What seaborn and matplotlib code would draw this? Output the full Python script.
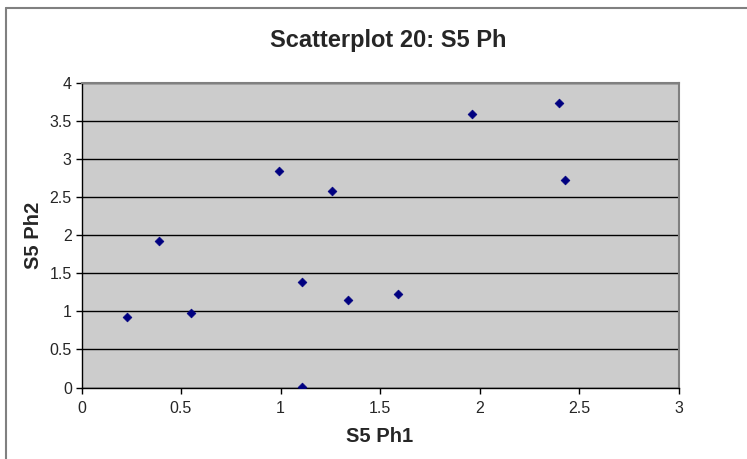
import matplotlib
matplotlib.use("Agg")
import matplotlib.pyplot as plt
import seaborn as sns
import pandas as pd
from matplotlib.lines import Line2D

x_vals = [0.23, 0.39, 0.55, 0.99, 1.11, 1.11, 1.26, 1.34, 1.59, 1.96, 2.40, 2.43]
y_vals = [0.93, 1.93, 0.98, 2.85, 1.39, 0.01, 2.58, 1.15, 1.23, 3.59, 3.74, 2.73]
x_ticks = [0, 0.5, 1, 1.5, 2, 2.5, 3]
x_tick_labels = ["0", "0.5", "1", "1.5", "2", "2.5", "3"]
y_ticks = [0, 0.5, 1, 1.5, 2, 2.5, 3, 3.5, 4]
y_tick_labels = ["0", "0.5", "1", "1.5", "2", "2.5", "3", "3.5", "4"]
title = "Scatterplot 20: S5 Ph"
x_label = "S5 Ph1"
y_label = "S5 Ph2"

sns.set_style("white")
plt.rcParams['font.family'] = ['Liberation Sans', 'DejaVu Sans']

W, H = 747, 459
fig = plt.figure(figsize=(W / 100, H / 100), dpi=100)
ax = fig.add_axes([81.5 / W, 1 - 387.5 / H, (678.5 - 81.5) / W, (387.5 - 83.3) / H])

df = pd.DataFrame({"x": x_vals, "y": y_vals})
sns.scatterplot(data=df, x="x", y="y", ax=ax, marker="D", s=20,
                color="#000080", edgecolor="#000080", linewidth=0.5, zorder=3)

ax.set_facecolor("#cccccc")
ax.set_xlim(0, 3)
ax.set_ylim(0, 4)
ax.set_xticks(x_ticks)
ax.set_xticklabels(x_tick_labels)
ax.set_yticks(y_ticks)
ax.set_yticklabels(y_tick_labels)
ax.yaxis.grid(True, color="black", linewidth=1)
ax.xaxis.grid(False)
ax.set_axisbelow(True)
ax.tick_params(axis="both", direction="out", length=4, width=1, color="black",
               labelsize=11.5, bottom=True, left=True)
ax.tick_params(axis="x", pad=6)
ax.tick_params(axis="y", pad=3)
for side in ["top", "right"]:
    ax.spines[side].set_color("#808080")
    ax.spines[side].set_linewidth(1.5)
for side in ["left", "bottom"]:
    ax.spines[side].set_color("black")
    ax.spines[side].set_linewidth(1)

ax.set_xlabel(x_label, fontsize=14.5, fontweight="bold", labelpad=8)
ax.set_ylabel(y_label, fontsize=14.5, fontweight="bold", labelpad=5)
fig.text(388 / W, 1 - 40 / H, title, fontsize=17, fontweight="bold",
         ha="center", va="center")

# outer chart frame (left and top edges)
fig.add_artist(Line2D([5.5 / W, 5.5 / W], [0, 1 - 8 / H], transform=fig.transFigure,
                      color="#808080", linewidth=1.5))
fig.add_artist(Line2D([5.5 / W, 1], [1 - 8 / H, 1 - 8 / H], transform=fig.transFigure,
                      color="#808080", linewidth=1.5))

fig.savefig("out.png", dpi=100)
